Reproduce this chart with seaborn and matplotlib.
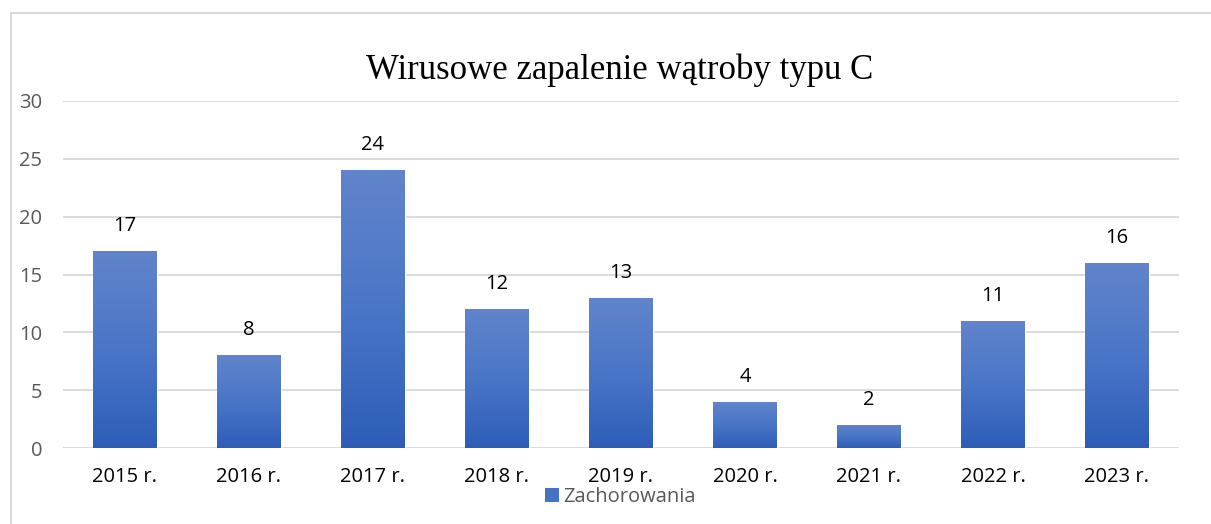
import numpy as np
import pandas as pd
import matplotlib
matplotlib.use("Agg")
import matplotlib.pyplot as plt
import seaborn as sns
from matplotlib.patches import Rectangle, Patch
from matplotlib.colors import LinearSegmentedColormap

categories = ["2015 r.", "2016 r.", "2017 r.", "2018 r.", "2019 r.", "2020 r.", "2021 r.", "2022 r.", "2023 r."]
values = [17, 8, 24, 12, 13, 4, 2, 11, 16]
series_name = "Zachorowania"
title = "Wirusowe zapalenie wątroby typu C"

sns.set_theme(style="white")
plt.rcParams['font.family'] = ['Open Sans', 'DejaVu Sans']

W, H = 1211, 524
fig = plt.figure(figsize=(W / 100, H / 100), dpi=100)
ax = fig.add_axes([63 / W, 1 - 448 / H, (1179 - 63) / W, (448 - 101) / H])

df = pd.DataFrame({"cat": categories, "val": values})
sns.barplot(data=df, x="cat", y="val", ax=ax, color="#4472c4", width=0.51, saturation=1)

ax.set_ylim(0, 30)
ax.set_xlim(-0.5, len(categories) - 0.5)
ax.set_yticks(range(0, 31, 5))
ax.yaxis.grid(True, color="#d9d9d9", linewidth=1.3)
ax.set_axisbelow(True)
for s in ax.spines.values():
    s.set_visible(False)
ax.set_xlabel("")
ax.set_ylabel("")
ax.tick_params(axis="y", colors="#595959", labelsize=14.5, length=0, pad=15)
ax.tick_params(axis="x", colors="black", labelsize=14.5, length=0, pad=14)
for t in ax.get_yticklabels():
    t.set_color("#595959")

cmap = LinearSegmentedColormap.from_list("g", ["#2e5db8", "#4a76c8", "#6184cb"])
grad = np.linspace(0, 1, 256).reshape(-1, 1)
for p in list(ax.patches):
    x0, y0 = p.get_x(), p.get_y()
    w, h = p.get_width(), p.get_height()
    sh = Rectangle((x0 + 0.012, y0 - 0.1), w, h, facecolor="#bfbfbf", edgecolor="none", alpha=0.6, zorder=1.5)
    ax.add_patch(sh)
    p.set_zorder(2)
    im = ax.imshow(grad, extent=[x0, x0 + w, y0, y0 + h], origin="lower", cmap=cmap,
                   aspect="auto", zorder=2.5)
    im.set_clip_path(p)
    ax.text(x0 + w / 2, y0 + h + 1.3, f"{int(h)}", ha="center", va="bottom", fontsize=14.5, color="black")

ax.set_xlim(-0.5, len(categories) - 0.5)
ax.set_ylim(0, 30)

fig.text(620 / W, 1 - 70 / H, title, ha="center", va="center", fontsize=25,
         family="Liberation Serif", color="black")

leg = fig.legend(handles=[Patch(facecolor="#4472c4", edgecolor="none")], labels=[series_name],
                 loc="center", bbox_to_anchor=(620 / W, 1 - 497 / H), frameon=False,
                 fontsize=14.5, handlelength=0.7, handleheight=0.7, handletextpad=0.2)
for t in leg.get_texts():
    t.set_color("#595959")

border = Rectangle((11 / W, 1 - 530 / H), 1.2, (530 - 13) / H, transform=fig.transFigure,
                   fill=False, edgecolor="#d9d9d9", linewidth=1.5)
fig.patches.append(border)

fig.savefig("out.png", dpi=100, facecolor="white")
